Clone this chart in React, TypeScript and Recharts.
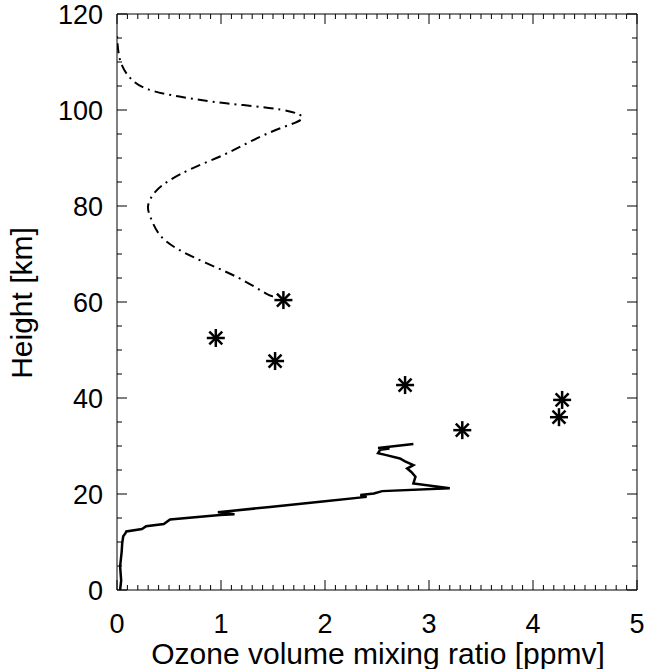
import { ComposedChart, Line, Scatter, XAxis, YAxis } from "recharts";

const FONT = '"Liberation Sans", Arial, Helvetica, sans-serif';

// ozonesonde profile (solid line)
const sondeOzone = [
  0.03, 0.04, 0.03, 0.045, 0.05, 0.06, 0.08, 0.09, 0.24, 0.28, 0.45, 0.51, 0.99, 1.13, 0.97, 1.47, 2.0,
  2.4, 2.34, 2.47, 2.55, 3.2, 2.85, 2.87, 2.83, 2.79, 2.85, 2.77, 2.72, 2.59, 2.51, 2.53, 2.62, 2.51, 2.85,
];
const sondeHeight = [
  0, 2, 4.9, 8, 9.7, 11.2, 11.8, 12.2, 12.7, 13.3, 13.75, 14.7, 15.6, 15.8, 16.2, 17.3, 18.5,
  19.4, 19.8, 20.1, 20.6, 21.2, 22.2, 23.6, 24.6, 25.3, 26.0, 26.8, 27.4, 28.1, 28.5, 29.2, 29.5, 29.6, 30.4,
];

// model profile above 60 km (dash-dot line)
const modelOzone = [
  1.5, 1.43, 1.18, 0.86, 0.57, 0.4, 0.32, 0.3, 0.37, 0.51, 0.73, 1.02, 1.28, 1.57, 1.78,
  1.57, 1.05, 0.6, 0.3, 0.13, 0.03, 0.0,
];
const modelHeight = [
  61.2, 61.8, 64.9, 68.1, 71.2, 74.3, 77.8, 80.2, 83.0, 85.4, 87.9, 90.6, 93.4, 96.2, 98.3,
  100.1, 101.4, 102.8, 104.3, 106.6, 110.4, 115.6,
];

// single measurements (asterisks)
const pointOzone = [1.6, 0.95, 1.52, 2.77, 3.32, 4.28, 4.25];
const pointHeight = [60.4, 52.5, 47.7, 42.7, 33.3, 39.6, 36.0];

const xLabels = [0, 1, 2, 3, 4, 5];
const yLabels = [0, 20, 40, 60, 80, 100, 120];
const xTicks = Array.from({ length: 51 }, (_, i) => i / 10);
const yTicks = Array.from({ length: 25 }, (_, i) => i * 5);

const sonde = sondeOzone.map((x, i) => ({ x, y: sondeHeight[i] }));
const model = modelOzone.map((x, i) => ({ x, y: modelHeight[i] }));
const points = pointOzone.map((x, i) => ({ x, y: pointHeight[i] }));

const MAJOR = 10;
const MINOR = 5;

function BottomTick({ x, y, payload }: any) {
  const major = xLabels.includes(payload.value);
  return (
    <g>
      <line x1={x} y1={y} x2={x} y2={y - (major ? MAJOR : MINOR)} stroke="#000" />
      {major && (
        <text x={x} y={y + 43} textAnchor="middle" fontSize={27} fontFamily={FONT} fill="#000">
          {payload.value}
        </text>
      )}
    </g>
  );
}

function TopTick({ x, y, payload }: any) {
  const major = xLabels.includes(payload.value);
  return <line x1={x} y1={y} x2={x} y2={y + (major ? MAJOR : MINOR)} stroke="#000" />;
}

function LeftTick({ x, y, payload }: any) {
  const major = yLabels.includes(payload.value);
  return (
    <g>
      <line x1={x} y1={y} x2={x + (major ? MAJOR : MINOR)} y2={y} stroke="#000" />
      {major && (
        <text x={x - 14} y={y + 9.5} textAnchor="end" fontSize={27} fontFamily={FONT} fill="#000">
          {payload.value}
        </text>
      )}
    </g>
  );
}

function RightTick({ x, y, payload }: any) {
  const major = yLabels.includes(payload.value);
  return <line x1={x} y1={y} x2={x - (major ? MAJOR : MINOR)} y2={y} stroke="#000" />;
}

function Asterisk({ cx, cy }: any) {
  const r = 9;
  const d = r * 0.72;
  return (
    <g stroke="#000" strokeWidth={2.5}>
      <line x1={cx} y1={cy - r} x2={cx} y2={cy + r} />
      <line x1={cx - r} y1={cy} x2={cx + r} y2={cy} />
      <line x1={cx - d} y1={cy - d} x2={cx + d} y2={cy + d} />
      <line x1={cx - d} y1={cy + d} x2={cx + d} y2={cy - d} />
    </g>
  );
}

const xTitle = () => (
  <text x={378} y={664} textAnchor="middle" fontSize={30} fontFamily={FONT} fill="#000">
    Ozone volume mixing ratio [ppmv]
  </text>
);

const yTitle = () => (
  <text
    x={32}
    y={303}
    transform="rotate(-90 32 303)"
    textAnchor="middle"
    fontSize={30}
    fontFamily={FONT}
    fill="#000"
  >
    Height [km]
  </text>
);

export default function App() {
  return (
    <div style={{ position: "absolute", left: 0, top: 0, background: "#fff" }}>
      <ComposedChart
        width={649}
        height={669}
        margin={{ top: 13, right: 11, bottom: 78, left: 116 }}
      >
        <XAxis
          xAxisId="b"
          type="number"
          dataKey="x"
          domain={[0, 5]}
          ticks={xTicks}
          interval={0}
          allowDataOverflow
          height={1}
          tickSize={0}
          tickMargin={0}
          tickLine={false}
          tick={BottomTick}
          axisLine={{ stroke: "#000" }}
          label={xTitle}
        />
        <XAxis
          xAxisId="t"
          orientation="top"
          type="number"
          dataKey="x"
          domain={[0, 5]}
          ticks={xTicks}
          interval={0}
          allowDataOverflow
          height={1}
          tickSize={0}
          tickMargin={0}
          tickLine={false}
          tick={TopTick}
          axisLine={{ stroke: "#000" }}
        />
        <YAxis
          yAxisId="l"
          type="number"
          dataKey="y"
          domain={[0, 120]}
          ticks={yTicks}
          interval={0}
          allowDataOverflow
          width={1}
          tickSize={0}
          tickMargin={0}
          tickLine={false}
          tick={LeftTick}
          axisLine={{ stroke: "#000" }}
          label={yTitle}
        />
        <YAxis
          yAxisId="r"
          orientation="right"
          type="number"
          dataKey="y"
          domain={[0, 120]}
          ticks={yTicks}
          interval={0}
          allowDataOverflow
          width={1}
          tickSize={0}
          tickMargin={0}
          tickLine={false}
          tick={RightTick}
          axisLine={{ stroke: "#000" }}
        />
        <Line
          xAxisId="b"
          yAxisId="l"
          data={model}
          dataKey="y"
          type="natural"
          stroke="#000"
          strokeWidth={2}
          strokeDasharray="10 5 2 5"
          dot={false}
          activeDot={false}
          isAnimationActive={false}
        />
        <Line
          xAxisId="b"
          yAxisId="l"
          data={sonde}
          dataKey="y"
          type="linear"
          stroke="#000"
          strokeWidth={2.5}
          dot={false}
          activeDot={false}
          isAnimationActive={false}
        />
        <Scatter
          xAxisId="b"
          yAxisId="l"
          data={points}
          dataKey="y"
          shape={Asterisk}
          isAnimationActive={false}
        />
      </ComposedChart>
    </div>
  );
}
